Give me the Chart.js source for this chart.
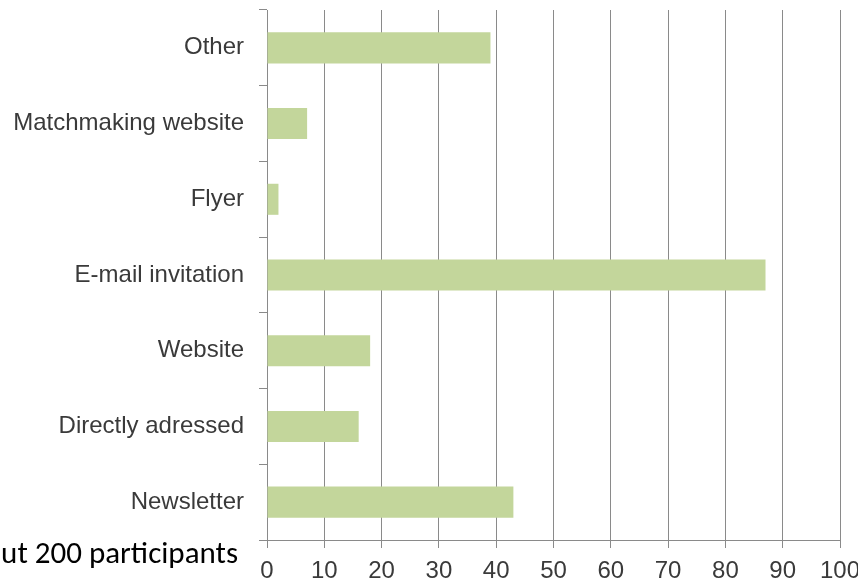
<!DOCTYPE html>
<html>
<head>
<meta charset="utf-8">
<title>Recruitment channels</title>
<script src="https://cdn.jsdelivr.net/npm/chart.js@4.4.0/dist/chart.umd.min.js"></script>
<style>
    html, body { margin: 0; padding: 0; background: #ffffff; }
    #wrap { width: 858px; height: 583px; }
</style>
</head>
<body>
<div id="wrap"><canvas id="myChart" width="858" height="583"></canvas></div>
<script>
// How participants heard about the event (top to bottom as shown)
const channels = ['Other', 'Matchmaking website', 'Flyer', 'E-mail invitation', 'Website', 'Directly adressed', 'Newsletter'];
const counts = [39, 7, 2, 87, 18, 16, 43];
const xTicks = [0, 10, 20, 30, 40, 50, 60, 70, 80, 90, 100];
const note = 'About 200 participants';

const gridGray = '#8a8a8a';
const labelGray = '#3a3a3a';

// draws the participants note in the lower left corner
const notePlugin = {
    id: 'notePlugin',
    afterDraw(chart) {
        const c = chart.ctx;
        c.save();
        c.font = '31px Carlito, Calibri, Lato, sans-serif';
        c.fillStyle = '#000000';
        c.textAlign = 'right';
        c.textBaseline = 'alphabetic';
        c.fillText(note, 238, 563);
        c.restore();
    }
};

const ctx = document.getElementById('myChart').getContext('2d');
new Chart(ctx, {
    type: 'bar',
    data: {
        labels: channels,
        datasets: [{
            data: counts,
            backgroundColor: '#c3d69b',
            borderWidth: 0,
            categoryPercentage: 1,
            barPercentage: 0.41
        }]
    },
    options: {
        indexAxis: 'y',
        responsive: false,
        animation: false,
        layout: {
            padding: { top: 10, right: 18, left: 0, bottom: 0 }
        },
        plugins: {
            legend: { display: false },
            tooltip: { enabled: false }
        },
        scales: {
            x: {
                min: 0,
                max: 100,
                afterBuildTicks: scale => {
                    scale.ticks = xTicks.map(v => ({ value: v }));
                },
                afterFit: scale => {
                    scale.height = 43;
                    // keep the plot edge fixed, the last label may overhang
                    scale.paddingLeft = 0;
                    scale.paddingRight = 0;
                },
                grid: {
                    color: gridGray,
                    lineWidth: 1,
                    tickLength: 8
                },
                border: { color: gridGray },
                ticks: {
                    color: labelGray,
                    padding: 9,
                    font: { family: "'Liberation Sans', Arial, sans-serif", size: 24 }
                }
            },
            y: {
                afterFit: scale => {
                    scale.width = 267;
                    scale.paddingTop = 0;
                    scale.paddingBottom = 0;
                },
                grid: {
                    offset: true,
                    drawOnChartArea: false,
                    color: gridGray,
                    tickLength: 8
                },
                border: { color: gridGray },
                ticks: {
                    color: labelGray,
                    padding: 15,
                    font: { family: "'Liberation Sans', Arial, sans-serif", size: 24 }
                }
            }
        }
    },
    plugins: [notePlugin]
});
</script>
</body>
</html>
